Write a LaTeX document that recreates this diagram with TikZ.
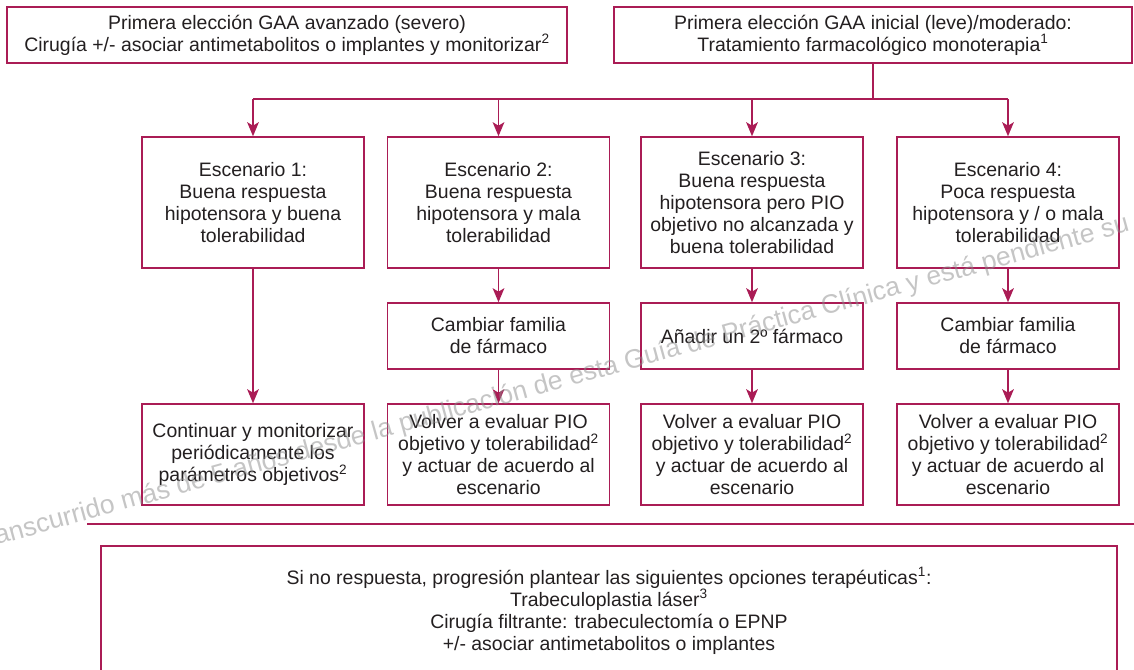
\documentclass[tikz,border=0pt]{standalone}
\usepackage{fontspec}
\setmainfont{Liberation Sans}
\usetikzlibrary{arrows.meta}
\definecolor{guiared}{RGB}{170,28,85}
\definecolor{guiatext}{RGB}{35,31,32}

\begin{document}
\begin{tikzpicture}[x=0.03cm,y=-0.03cm,font=\fontsize{16.6}{18.8}\selectfont,text=guiatext]
    \tikzstyle{box node}=[draw=guiared,line width=1.3pt,align=center,inner sep=2pt]
    \tikzstyle{case node}=[box node,minimum width=6.66cm,minimum height=3.93cm]
    \tikzstyle{change node}=[box node,minimum width=6.66cm,minimum height=1.98cm]
    \tikzstyle{result node}=[box node,minimum width=6.66cm,minimum height=3.03cm]
    \tikzstyle{flow line}=[draw=guiared,line width=1.3pt]
    \tikzstyle{flow arrow}=[flow line,-{Stealth[length=12pt,width=10pt,inset=3pt]}]
    \tikzstyle{stamp}=[text=black!45,opacity=.5,font=\fontsize{22.6}{24}\selectfont,rotate=15.5,anchor=base west,inner sep=0]

    \useasboundingbox (0,0) rectangle (1134,670);
    \clip (0,0) rectangle (1134,670);

    \node(top1)[box node,minimum width=16.8cm,minimum height=1.68cm] at (287,35)
        {Primera elección GAA avanzado (severo)\\Cirugía +/- asociar antimetabolitos o implantes y monitorizar\textsuperscript{2}};
    \node(top2)[box node,minimum width=15.54cm,minimum height=1.68cm] at (873,35)
        {Primera elección GAA inicial (leve)/moderado:\\Tratamiento farmacológico monoterapia\textsuperscript{1}};

    \node(s1)[case node] at (253,202.5) {Escenario 1:\\Buena respuesta\\hipotensora y buena\\tolerabilidad};
    \node(s2)[case node] at (498.5,202.5) {Escenario 2:\\Buena respuesta\\hipotensora y mala\\tolerabilidad};
    \node(s3)[case node] at (752,202.5) {Escenario 3:\\Buena respuesta\\hipotensora pero PIO\\objetivo no alcanzada y\\buena tolerabilidad};
    \node(s4)[case node] at (1008,202.5) {Escenario 4:\\Poca respuesta\\hipotensora y / o mala\\tolerabilidad};

    \node(m2)[change node] at (498.5,336) {Cambiar familia\\de fármaco};
    \node(m3)[change node] at (752,336) {Añadir un 2º fármaco};
    \node(m4)[change node] at (1008,336) {Cambiar familia\\de fármaco};

    \node(r1)[result node] at (253,454.5) {Continuar y monitorizar\\periódicamente los\\parámetros objetivos\textsuperscript{2}};
    \node(r2)[result node] at (498.5,454.5) {Volver a evaluar PIO\\objetivo y tolerabilidad\textsuperscript{2}\\y actuar de acuerdo al\\escenario};
    \node(r3)[result node] at (752,454.5) {Volver a evaluar PIO\\objetivo y tolerabilidad\textsuperscript{2}\\y actuar de acuerdo al\\escenario};
    \node(r4)[result node] at (1008,454.5) {Volver a evaluar PIO\\objetivo y tolerabilidad\textsuperscript{2}\\y actuar de acuerdo al\\escenario};

    \node(last)[box node,minimum width=30.48cm,minimum height=3.9cm] at (609,611)
        {Si no respuesta, progresión plantear las siguientes opciones terapéuticas\textsuperscript{1}:\\Trabeculoplastia láser\textsuperscript{3}\\Cirugía filtrante: trabeculectomía o EPNP\\+/- asociar antimetabolitos o implantes};

    \coordinate(hub) at (873,99);
    \coordinate(cutL) at (87,524);
    \coordinate(cutR) at (1134,524);

    \draw[flow line](top2.south)--(hub);
    \draw[flow line](s1.north |- hub)--(s4.north |- hub);
    \foreach \n in {1,...,4}
        \draw[flow arrow](s\n.north |- hub)--(s\n.north);
    \draw[flow arrow](s1)--(r1);
    \foreach \n in {2,3,4}{
        \draw[flow arrow](s\n)--(m\n);
        \draw[flow arrow](m\n)--(r\n);
    }
    \draw[flow line](cutL)--(cutR);

    \node(mark)[stamp] at (-3,545) {anscurrido más de 5 años desde la publicación de esta Guía de Práctica Clínica y está pendiente su};
\end{tikzpicture}
\end{document}
